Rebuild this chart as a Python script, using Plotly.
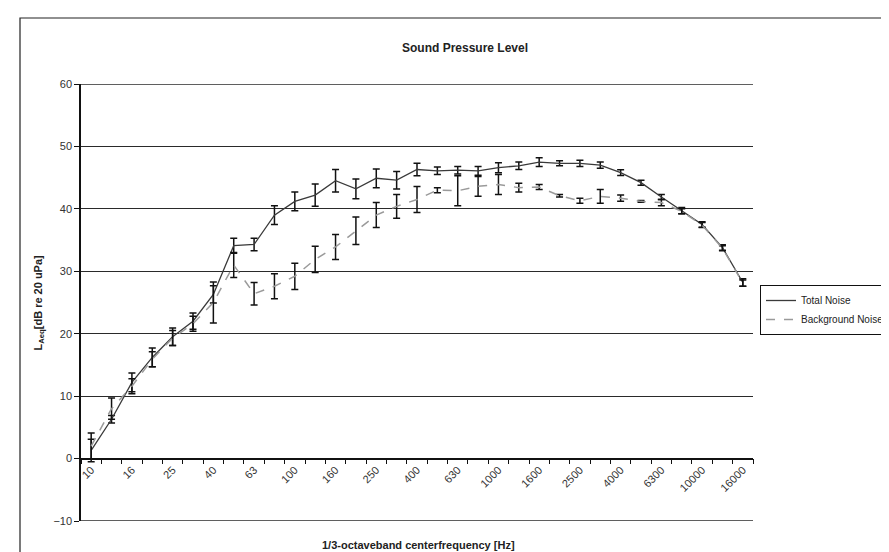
import plotly.graph_objects as go

bands = ["10", "12.5", "16", "20", "25", "31.5", "40", "50", "63", "80", "100", "125",
         "160", "200", "250", "315", "400", "500", "630", "800", "1000", "1250", "1600",
         "2000", "2500", "3150", "4000", "5000", "6300", "8000", "10000", "12500", "16000"]

total_noise = [1.3, 6.3, 12.2, 16.2, 19.5, 22.0, 26.3, 34.1, 34.3, 39.0, 41.2, 42.2,
               44.5, 43.2, 44.9, 44.6, 46.3, 46.1, 46.2, 46.1, 46.6, 46.9, 47.5,
               47.3, 47.3, 47.0, 45.8, 44.2, 41.9, 39.7, 37.5, 33.8, 28.2]
total_err = [1.8, 0.6, 1.5, 1.5, 1.4, 1.3, 1.4, 1.2, 1.0, 1.5, 1.5, 1.8,
             1.8, 1.6, 1.5, 1.4, 1.0, 0.6, 0.6, 0.7, 0.8, 0.6, 0.7,
             0.4, 0.5, 0.5, 0.45, 0.4, 0.4, 0.5, 0.45, 0.45, 0.6]

background_noise = [2.0, 8.0, 11.6, 15.9, 19.3, 21.6, 25.0, 31.0, 26.4, 27.6, 29.2, 31.9,
                    33.9, 36.5, 39.0, 40.4, 41.5, 43.0, 42.9, 43.6, 43.9, 43.4, 43.5,
                    42.1, 41.3, 42.0, 41.7, 41.2, 41.0, 39.6, 37.4, 33.7, 28.1]
background_err = [2.1, 1.7, 1.2, 1.2, 1.2, 1.2, 3.3, 2.0, 1.8, 2.0, 2.1, 2.1,
                  2.0, 2.2, 2.0, 1.9, 2.1, 0.4, 2.4, 1.6, 1.6, 0.7, 0.4,
                  0.2, 0.4, 1.1, 0.5, 0.15, 0.5, 0.4, 0.4, 0.4, 0.5]

y_ticks = [-10, 0, 10, 20, 30, 40, 50, 60]

idx = list(range(len(bands)))
FONT = "Liberation Sans, Arial, sans-serif"
GRID = "#2a2a2a"

fig = go.Figure()
fig.add_trace(go.Scatter(
    x=idx, y=total_noise, mode="lines", name="Total Noise",
    line=dict(color="#3a3a3a", width=1.3),
    error_y=dict(type="data", array=total_err, visible=True, color="#111111",
                 thickness=1.5, width=3.5),
))
fig.add_trace(go.Scatter(
    x=idx, y=background_noise, mode="lines", name="Background Noise",
    line=dict(color="#9a9a9a", width=1.5, dash="dash"),
    error_y=dict(type="data", array=background_err, visible=True, color="#111111",
                 thickness=1.5, width=3.5),
))

L, R, T, B = 73, 889 - 745, 76, 552 - 513
W, H = 889 - L - R, 552 - T - B

def px(xp):
    return (xp - L) / W

def py(yp):
    return (552 - B - yp) / H

edge_lines = [dict(type="line", xref="paper", yref="y", x0=0, x1=1, y0=v, y1=v,
                   line=dict(color=GRID, width=1.3), layer="below")
              for v in (y_ticks[0], y_ticks[-1])]

fig.update_layout(
    width=889, height=552,
    margin=dict(l=L, r=R, t=T, b=B, autoexpand=False),
    paper_bgcolor="white", plot_bgcolor="white",
    font=dict(family=FONT, size=10, color="#222222"),
    showlegend=True,
    legend=dict(x=px(752), y=py(277), xanchor="left", yanchor="top",
                bordercolor="#111111", borderwidth=1, bgcolor="white",
                font=dict(size=10, color="#222222"), tracegroupgap=0,
                itemwidth=30),
    xaxis=dict(
        range=[-0.5, len(bands) - 0.5], anchor="free", position=10 / 70,
        showline=True, linecolor="#111111", linewidth=1.5,
        tickmode="array", tickvals=idx[::2], ticktext=bands[::2], tickangle=-45,
        ticks="", showgrid=False, zeroline=False,
        tickfont=dict(size=11, color="#333333"),
        minor=dict(tickmode="array", tickvals=[i - 0.5 for i in range(len(bands) + 1)],
                   ticks="outside", ticklen=5, tickcolor="#111111", tickwidth=1,
                   showgrid=False),
    ),
    yaxis=dict(
        range=[-10, 60], tickmode="array", tickvals=y_ticks,
        showgrid=True, gridcolor=GRID, gridwidth=1.3,
        showline=True, linecolor="#111111", linewidth=1.5,
        ticks="outside", ticklen=5, tickcolor="#111111",
        zeroline=False, tickfont=dict(size=11, color="#333333"),
    ),
    shapes=edge_lines + [dict(type="rect", xref="paper", yref="paper",
                 x0=px(12), x1=px(900), y0=py(548), y1=py(10),
                 line=dict(color="#222222", width=1.2))],
    annotations=[
        dict(text="<b>Sound Pressure Level</b>", xref="paper", yref="paper",
             x=px(457), y=py(40), showarrow=False, xanchor="center", yanchor="middle",
             font=dict(size=12, color="#222222")),
        dict(text="<b>1/3-octaveband centerfrequency [Hz]</b>", xref="paper", yref="paper",
             x=px(410), y=py(537), showarrow=False, xanchor="center", yanchor="middle",
             font=dict(size=11, color="#222222")),
        dict(text="<b>L<sub>Aeq</sub>[dB re 20 uPa]</b>", xref="paper", yref="paper",
             x=px(30), y=0.5, showarrow=False, xanchor="center", yanchor="middle",
             textangle=-90, font=dict(size=11, color="#222222")),
    ],
)

fig.write_html("out.html")
